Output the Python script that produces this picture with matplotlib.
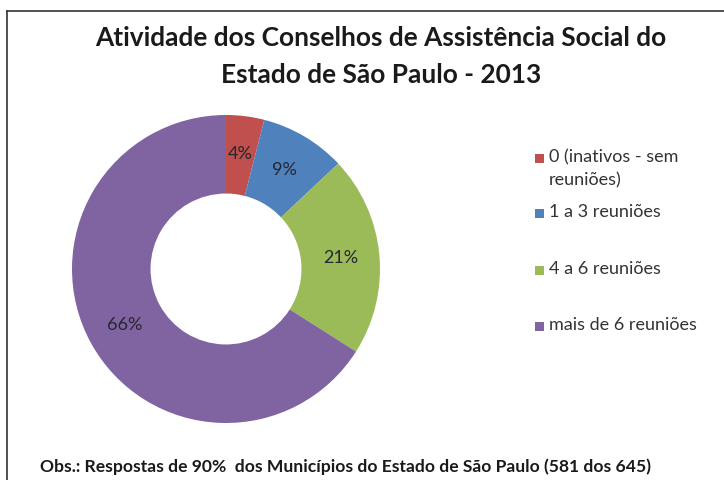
import matplotlib.pyplot as plt
from matplotlib.lines import Line2D
from matplotlib.patches import Rectangle

# Dados
categorias = ['0 (inativos - sem\nreuniões)', '1 a 3 reuniões', '4 a 6 reuniões', 'mais de 6 reuniões']
percentuais = [4, 9, 21, 66]
cores = ['#C0504D', '#4F81BD', '#9BBB59', '#8064A2']

W, H = 724, 480
fig = plt.figure(figsize=(W / 100, H / 100), dpi=100)
fig.patch.set_facecolor('white')

# Rosca: centro (226, 269) px, raio 154 px
cx, cy, r = 226, 269, 154
ax = fig.add_axes([(cx - r) / W, (H - cy - r) / H, 2 * r / W, 2 * r / H])
wedges, texts, autotexts = ax.pie(
    percentuais, colors=cores, startangle=90, counterclock=False,
    autopct='%1.0f%%', pctdistance=0.75, radius=1,
    wedgeprops=dict(width=0.51, edgecolor='none'),
    textprops=dict(fontsize=13, color='#26262e', family='Lato'))
ax.set_xlim(-1, 1)
ax.set_ylim(-1, 1)
ax.axis('off')

# Título
fig.text(381 / W, 1 - 38 / H, 'Atividade dos Conselhos de Assistência Social do',
         ha='center', va='center', fontsize=18.9, fontweight='bold', family='Lato', color='#1a1a1a')
fig.text(381 / W, 1 - 75 / H, 'Estado de São Paulo - 2013',
         ha='center', va='center', fontsize=18.9, fontweight='bold', family='Lato', color='#1a1a1a')

# Legenda
leg_y = [158, 213, 270, 326]
for lab, cor, y in zip(categorias, cores, leg_y):
    fig.patches.append(Rectangle((535 / W, 1 - (y + 5) / H), 9 / W, 9 / H,
                                 transform=fig.transFigure, facecolor=cor, edgecolor='none'))
    fig.text(549 / W, 1 - (y - 9) / H, lab, ha='left', va='top', fontsize=13,
             family='Lato', color='#333333', linespacing=1.55)

# Observação
fig.text(40 / W, 1 - 467 / H,
         'Obs.: Respostas de 90%  dos Municípios do Estado de São Paulo (581 dos 645)',
         ha='left', va='center', fontsize=12.6, fontweight='bold', family='Lato', color='#1a1a1a')

# Moldura
fig.add_artist(Line2D([7 / W, 7 / W], [0, 1 - 11 / H], transform=fig.transFigure, color='#333333', lw=1.2))
fig.add_artist(Line2D([7 / W, 1], [1 - 11 / H, 1 - 11 / H], transform=fig.transFigure, color='#333333', lw=1.2))

fig.savefig('out.png', dpi=100)
